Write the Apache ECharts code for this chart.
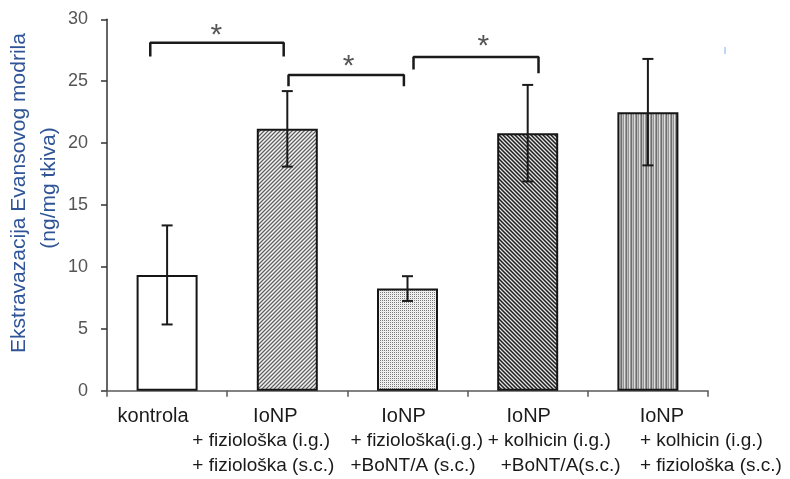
<!DOCTYPE html>
<html><head><meta charset="utf-8">
<script src="https://cdn.jsdelivr.net/npm/echarts@6/dist/echarts.min.js"></script>
<style>html,body{margin:0;padding:0;background:#fff}#c{width:790px;height:479px}</style>
</head><body><div id="c"></div>
<script>
// ---- data ----
const categories = ['kontrola', 'IoNP', 'IoNP', 'IoNP', 'IoNP'];
const subLine1 = ['', '+ fiziološka (i.g.)', '+ fiziološka(i.g.)', '+ kolhicin (i.g.)', '+ kolhicin (i.g.)'];
const subLine2 = ['', '+ fiziološka (s.c.)', '+BoNT/A (s.c.)', '+BoNT/A(s.c.)', '+ fiziološka (s.c.)'];
const means = [9.35, 21.15, 8.25, 20.8, 22.5];
const errs = [4.0, 3.05, 1.0, 3.9, 4.3];
const yTicks = [0, 5, 10, 15, 20, 25, 30];
// significance brackets (x in category units, y in axis units)
const sigFrom = [-0.14, 1.01, 2.05];
const sigTo = [0.97, 1.97, 3.09];
const sigTop = [28.1, 25.5, 26.95];
const sigFromEnd = [27.1, 24.7, 26.05];
const sigToEnd = [27.1, 24.7, 25.75];
const sigStarX = [0.41, 1.51, 2.63];
const sigStarY = [29.1, 26.55, 28.15];
const sigLabel = ['*', '*', '*'];
const yTitle1 = 'Ekstravazacija Evansovog modrila';
const yTitle2 = '(ng/mg tkiva)';

// ---- layout / style ----
const line1Off = [-14, -12, -4, 1, 14];
const line2Off = [-95, -57, -40, -8];
const line3Off = [-95, -57, -27, -8];

function pat(w, h, fn) {
  const c = document.createElement('canvas'); c.width = w; c.height = h;
  const g = c.getContext('2d');
  for (let y = 0; y < h; y++) for (let x = 0; x < w; x++) { g.fillStyle = fn(x, y); g.fillRect(x, y, 1, 1); }
  return { image: c, repeat: 'repeat' };
}
const fills = [
  '#ffffff',
  pat(4, 4, (x, y) => ['#f2f2f2', '#b4b4b4', '#5e5e5e', '#b4b4b4'][(x + y) % 4]),
  pat(2, 2, (x, y) => (x % 2 === 0 && y % 2 === 0) ? '#7a7a7a' : ((x + y) % 2 === 0 ? '#e6e6e6' : '#f4f4f4')),
  pat(4, 4, (x, y) => ['#1e1e1e', '#767676', '#e4e4e4', '#767676'][((x - y) % 4 + 4) % 4]),
  pat(5, 1, (x) => ['#9a9a9a', '#6e6e6e', '#bcbcbc', '#949494', '#dedede'][x])
];

const chart = echarts.init(document.getElementById('c'), null, { renderer: 'canvas' });

const series = [
  {
    type: 'bar', xAxisIndex: 0, yAxisIndex: 0, barWidth: 61, z: 2,
    data: means.map((v, i) => ({ value: v, itemStyle: { color: fills[i], borderColor: '#151515', borderWidth: 2 } })),
    silent: true
  },
  {
    type: 'custom', xAxisIndex: 0, yAxisIndex: 0, z: 5,
    data: means.map((v, i) => [i, v - errs[i], v + errs[i]]),
    renderItem: function (params, api) {
      const lo = api.coord([api.value(0), api.value(1)]);
      const hi = api.coord([api.value(0), api.value(2)]);
      const hw = 5.5, st = { stroke: '#1a1a1a', lineWidth: 2 };
      return { type: 'group', children: [
        { type: 'line', shape: { x1: lo[0], y1: lo[1], x2: hi[0], y2: hi[1] }, style: st },
        { type: 'line', shape: { x1: lo[0] - hw, y1: lo[1], x2: lo[0] + hw, y2: lo[1] }, style: st },
        { type: 'line', shape: { x1: hi[0] - hw, y1: hi[1], x2: hi[0] + hw, y2: hi[1] }, style: st }
      ]};
    }
  }
];
sigFrom.forEach((f, k) => {
  series.push({
    type: 'line', xAxisIndex: 1, yAxisIndex: 0, symbol: 'none', silent: true, z: 6,
    lineStyle: { color: '#1a1a1a', width: 2.5, cap: 'square' },
    data: [[f, sigFromEnd[k]], [f, sigTop[k]], [sigTo[k], sigTop[k]], [sigTo[k], sigToEnd[k]]]
  });
});
series.push({
  type: 'scatter', xAxisIndex: 1, yAxisIndex: 0, symbolSize: 0.01, silent: true, z: 6,
  itemStyle: { color: 'rgba(0,0,0,0)' },
  label: { show: true, position: 'inside', formatter: p => sigLabel[p.dataIndex], fontSize: 30, color: '#2a2a2a', fontFamily: 'Liberation Sans', offset: [0, 5] },
  data: sigStarX.map((x, k) => [x, sigStarY[k]])
});

chart.setOption({
  animation: false,
  backgroundColor: '#ffffff',
  grid: { left: 107, right: 82, top: 19.3, bottom: 88.3 },
  xAxis: [
    {
      type: 'category', data: categories, boundaryGap: true,
      axisLine: { onZero: false, lineStyle: { color: '#5a5a5a', width: 1.5 } },
      axisTick: { show: true, length: 6, lineStyle: { color: '#5a5a5a', width: 1.5 } },
      axisLabel: { show: false }, splitLine: { show: false }
    },
    { type: 'value', min: -0.5, max: 4.5, show: false }
  ],
  yAxis: {
    type: 'value', min: yTicks[0], max: yTicks[yTicks.length - 1], interval: 5,
    axisLine: { show: true, onZero: false, lineStyle: { color: '#333', width: 1.5 } },
    axisTick: { show: true, length: 6, lineStyle: { color: '#333', width: 1.5 } },
    axisLabel: { fontSize: 18, color: '#555', fontFamily: 'Liberation Sans', margin: 19 },
    splitLine: { show: false }
  },
  series: series
});

const g = [];
categories.forEach((c, i) => {
  const cx = chart.convertToPixel({ xAxisIndex: 0 }, i);
  g.push({ type: 'text', x: cx + line1Off[i], y: 416, style: { text: c, fontSize: 20, fontFamily: 'Liberation Sans', fill: '#1a1a1a', textAlign: 'center', textVerticalAlign: 'middle' } });
  if (subLine1[i]) {
    g.push({ type: 'text', x: cx + line2Off[i - 1], y: 441, style: { text: subLine1[i], fontSize: 19, fontFamily: 'Liberation Sans', fill: '#1a1a1a', textAlign: 'left', textVerticalAlign: 'middle' } });
    g.push({ type: 'text', x: cx + line3Off[i - 1], y: 466, style: { text: subLine2[i], fontSize: 19, fontFamily: 'Liberation Sans', fill: '#1a1a1a', textAlign: 'left', textVerticalAlign: 'middle' } });
  }
});
g.push({ type: 'text', x: 19, y: 193, rotation: Math.PI / 2, style: { text: yTitle1, fontSize: 21, fontFamily: 'Liberation Sans', fill: '#2f5597', textAlign: 'center', textVerticalAlign: 'middle' } });
g.push({ type: 'text', x: 49, y: 188, rotation: Math.PI / 2, style: { text: yTitle2, fontSize: 21, fontFamily: 'Liberation Sans', fill: '#2f5597', textAlign: 'center', textVerticalAlign: 'middle' } });
g.push({ type: 'line', shape: { x1: 725, y1: 47, x2: 725, y2: 54 }, style: { stroke: '#7fb3f0', lineWidth: 1 } });
chart.setOption({ graphic: g });
</script>
</body></html>
